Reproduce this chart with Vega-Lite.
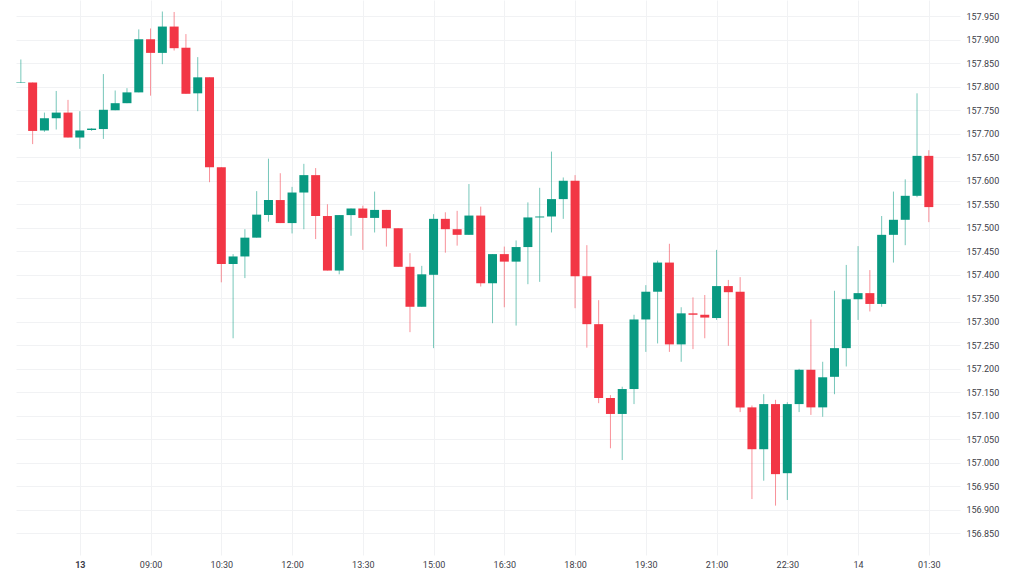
{
  "$schema": "https://vega.github.io/schema/vega-lite/v6.json",
  "width": 944,
  "height": 555,
  "autosize": {"type": "none"},
  "padding": {"left": 16, "top": 0, "right": 64, "bottom": 21},
  "background": "#ffffff",
  "config": {
    "view": {"stroke": null},
    "font": "Roboto",
    "axis": {"labelFont": "Roboto", "gridColor": "#f1f2f4", "gridWidth": 1},
    "axisY": {"labelOverlap": false, "labelFlush": false}
  },
  "data": {
    "values": [
      {"t": "2025-01-13T06:15:00Z", "o": 157.808, "h": 157.858, "l": 157.808, "c": 157.809},
      {"t": "2025-01-13T06:30:00Z", "o": 157.809, "h": 157.809, "l": 157.678, "c": 157.706},
      {"t": "2025-01-13T06:45:00Z", "o": 157.707, "h": 157.745, "l": 157.704, "c": 157.733},
      {"t": "2025-01-13T07:00:00Z", "o": 157.733, "h": 157.791, "l": 157.709, "c": 157.745},
      {"t": "2025-01-13T07:15:00Z", "o": 157.745, "h": 157.772, "l": 157.692, "c": 157.692},
      {"t": "2025-01-13T07:30:00Z", "o": 157.692, "h": 157.748, "l": 157.668, "c": 157.707},
      {"t": "2025-01-13T07:45:00Z", "o": 157.708, "h": 157.712, "l": 157.706, "c": 157.711},
      {"t": "2025-01-13T08:00:00Z", "o": 157.710, "h": 157.827, "l": 157.689, "c": 157.751},
      {"t": "2025-01-13T08:15:00Z", "o": 157.750, "h": 157.792, "l": 157.750, "c": 157.765},
      {"t": "2025-01-13T08:30:00Z", "o": 157.765, "h": 157.797, "l": 157.765, "c": 157.788},
      {"t": "2025-01-13T08:45:00Z", "o": 157.788, "h": 157.922, "l": 157.788, "c": 157.901},
      {"t": "2025-01-13T09:00:00Z", "o": 157.901, "h": 157.924, "l": 157.781, "c": 157.872},
      {"t": "2025-01-13T09:15:00Z", "o": 157.872, "h": 157.960, "l": 157.848, "c": 157.928},
      {"t": "2025-01-13T09:30:00Z", "o": 157.928, "h": 157.959, "l": 157.877, "c": 157.882},
      {"t": "2025-01-13T09:45:00Z", "o": 157.883, "h": 157.912, "l": 157.785, "c": 157.785},
      {"t": "2025-01-13T10:00:00Z", "o": 157.786, "h": 157.863, "l": 157.748, "c": 157.820},
      {"t": "2025-01-13T10:15:00Z", "o": 157.820, "h": 157.820, "l": 157.597, "c": 157.629},
      {"t": "2025-01-13T10:30:00Z", "o": 157.629, "h": 157.629, "l": 157.384, "c": 157.423},
      {"t": "2025-01-13T10:45:00Z", "o": 157.423, "h": 157.444, "l": 157.265, "c": 157.439},
      {"t": "2025-01-13T11:00:00Z", "o": 157.439, "h": 157.497, "l": 157.393, "c": 157.479},
      {"t": "2025-01-13T11:15:00Z", "o": 157.479, "h": 157.578, "l": 157.479, "c": 157.528},
      {"t": "2025-01-13T11:30:00Z", "o": 157.527, "h": 157.647, "l": 157.513, "c": 157.559},
      {"t": "2025-01-13T11:45:00Z", "o": 157.559, "h": 157.616, "l": 157.510, "c": 157.510},
      {"t": "2025-01-13T12:00:00Z", "o": 157.510, "h": 157.587, "l": 157.488, "c": 157.575},
      {"t": "2025-01-13T12:15:00Z", "o": 157.575, "h": 157.636, "l": 157.497, "c": 157.612},
      {"t": "2025-01-13T12:30:00Z", "o": 157.612, "h": 157.627, "l": 157.476, "c": 157.525},
      {"t": "2025-01-13T12:45:00Z", "o": 157.525, "h": 157.550, "l": 157.409, "c": 157.409},
      {"t": "2025-01-13T13:00:00Z", "o": 157.409, "h": 157.527, "l": 157.401, "c": 157.527},
      {"t": "2025-01-13T13:15:00Z", "o": 157.527, "h": 157.541, "l": 157.483, "c": 157.541},
      {"t": "2025-01-13T13:30:00Z", "o": 157.541, "h": 157.547, "l": 157.453, "c": 157.521},
      {"t": "2025-01-13T13:45:00Z", "o": 157.521, "h": 157.577, "l": 157.490, "c": 157.538},
      {"t": "2025-01-13T14:00:00Z", "o": 157.538, "h": 157.538, "l": 157.460, "c": 157.499},
      {"t": "2025-01-13T14:15:00Z", "o": 157.499, "h": 157.499, "l": 157.417, "c": 157.417},
      {"t": "2025-01-13T14:30:00Z", "o": 157.417, "h": 157.446, "l": 157.278, "c": 157.332},
      {"t": "2025-01-13T14:45:00Z", "o": 157.332, "h": 157.419, "l": 157.332, "c": 157.401},
      {"t": "2025-01-13T15:00:00Z", "o": 157.400, "h": 157.529, "l": 157.244, "c": 157.519},
      {"t": "2025-01-13T15:15:00Z", "o": 157.519, "h": 157.533, "l": 157.447, "c": 157.497},
      {"t": "2025-01-13T15:30:00Z", "o": 157.497, "h": 157.536, "l": 157.462, "c": 157.485},
      {"t": "2025-01-13T15:45:00Z", "o": 157.485, "h": 157.593, "l": 157.485, "c": 157.526},
      {"t": "2025-01-13T16:00:00Z", "o": 157.526, "h": 157.545, "l": 157.375, "c": 157.382},
      {"t": "2025-01-13T16:15:00Z", "o": 157.382, "h": 157.444, "l": 157.297, "c": 157.444},
      {"t": "2025-01-13T16:30:00Z", "o": 157.444, "h": 157.460, "l": 157.331, "c": 157.428},
      {"t": "2025-01-13T16:45:00Z", "o": 157.428, "h": 157.473, "l": 157.292, "c": 157.459},
      {"t": "2025-01-13T17:00:00Z", "o": 157.459, "h": 157.554, "l": 157.380, "c": 157.522},
      {"t": "2025-01-13T17:15:00Z", "o": 157.522, "h": 157.585, "l": 157.385, "c": 157.524},
      {"t": "2025-01-13T17:30:00Z", "o": 157.524, "h": 157.662, "l": 157.490, "c": 157.561},
      {"t": "2025-01-13T17:45:00Z", "o": 157.561, "h": 157.607, "l": 157.519, "c": 157.600},
      {"t": "2025-01-13T18:00:00Z", "o": 157.600, "h": 157.612, "l": 157.329, "c": 157.397},
      {"t": "2025-01-13T18:15:00Z", "o": 157.397, "h": 157.463, "l": 157.245, "c": 157.295},
      {"t": "2025-01-13T18:30:00Z", "o": 157.295, "h": 157.346, "l": 157.127, "c": 157.138},
      {"t": "2025-01-13T18:45:00Z", "o": 157.138, "h": 157.144, "l": 157.031, "c": 157.104},
      {"t": "2025-01-13T19:00:00Z", "o": 157.104, "h": 157.162, "l": 157.006, "c": 157.157},
      {"t": "2025-01-13T19:15:00Z", "o": 157.157, "h": 157.315, "l": 157.125, "c": 157.305},
      {"t": "2025-01-13T19:30:00Z", "o": 157.305, "h": 157.378, "l": 157.236, "c": 157.364},
      {"t": "2025-01-13T19:45:00Z", "o": 157.364, "h": 157.430, "l": 157.254, "c": 157.426},
      {"t": "2025-01-13T20:00:00Z", "o": 157.426, "h": 157.466, "l": 157.236, "c": 157.252},
      {"t": "2025-01-13T20:15:00Z", "o": 157.252, "h": 157.331, "l": 157.215, "c": 157.318},
      {"t": "2025-01-13T20:30:00Z", "o": 157.318, "h": 157.352, "l": 157.242, "c": 157.315},
      {"t": "2025-01-13T20:45:00Z", "o": 157.315, "h": 157.357, "l": 157.265, "c": 157.309},
      {"t": "2025-01-13T21:00:00Z", "o": 157.308, "h": 157.453, "l": 157.304, "c": 157.376},
      {"t": "2025-01-13T21:15:00Z", "o": 157.376, "h": 157.389, "l": 157.249, "c": 157.363},
      {"t": "2025-01-13T21:30:00Z", "o": 157.364, "h": 157.395, "l": 157.108, "c": 157.118},
      {"t": "2025-01-13T21:45:00Z", "o": 157.118, "h": 157.122, "l": 156.923, "c": 157.029},
      {"t": "2025-01-13T22:00:00Z", "o": 157.029, "h": 157.146, "l": 156.962, "c": 157.125},
      {"t": "2025-01-13T22:15:00Z", "o": 157.125, "h": 157.134, "l": 156.909, "c": 156.976},
      {"t": "2025-01-13T22:30:00Z", "o": 156.978, "h": 157.129, "l": 156.921, "c": 157.125},
      {"t": "2025-01-13T22:45:00Z", "o": 157.125, "h": 157.200, "l": 157.108, "c": 157.198},
      {"t": "2025-01-13T23:00:00Z", "o": 157.198, "h": 157.305, "l": 157.102, "c": 157.118},
      {"t": "2025-01-13T23:15:00Z", "o": 157.118, "h": 157.215, "l": 157.098, "c": 157.182},
      {"t": "2025-01-13T23:30:00Z", "o": 157.183, "h": 157.366, "l": 157.146, "c": 157.244},
      {"t": "2025-01-13T23:45:00Z", "o": 157.244, "h": 157.421, "l": 157.205, "c": 157.348},
      {"t": "2025-01-14T00:00:00Z", "o": 157.348, "h": 157.461, "l": 157.304, "c": 157.361},
      {"t": "2025-01-14T00:15:00Z", "o": 157.361, "h": 157.410, "l": 157.322, "c": 157.338},
      {"t": "2025-01-14T00:30:00Z", "o": 157.338, "h": 157.525, "l": 157.332, "c": 157.485},
      {"t": "2025-01-14T00:45:00Z", "o": 157.485, "h": 157.577, "l": 157.426, "c": 157.517},
      {"t": "2025-01-14T01:00:00Z", "o": 157.517, "h": 157.603, "l": 157.463, "c": 157.568},
      {"t": "2025-01-14T01:15:00Z", "o": 157.568, "h": 157.786, "l": 157.565, "c": 157.653},
      {"t": "2025-01-14T01:30:00Z", "o": 157.653, "h": 157.665, "l": 157.512, "c": 157.544}
    ]
  },
  "encoding": {
    "x": {
      "field": "t",
      "type": "temporal",
      "scale": {
        "type": "utc",
        "padding": 0,
        "domain": [
          {"year": 2025, "month": 1, "date": 13, "hours": 6, "minutes": 8, "seconds": 50, "utc": true},
          {"year": 2025, "month": 1, "date": 14, "hours": 2, "minutes": 9, "seconds": 40, "utc": true}
        ]
      },
      "axis": {
        "title": null,
        "domain": false,
        "ticks": false,
        "labelPadding": 5,
        "labelFontSize": 9,
        "labelColor": "#3d4049",
        "labelFlush": false,
        "labelOverlap": false,
        "values": [
          {"year": 2025, "month": 1, "date": 13, "hours": 7, "minutes": 30, "utc": true},
          {"year": 2025, "month": 1, "date": 13, "hours": 9, "minutes": 0, "utc": true},
          {"year": 2025, "month": 1, "date": 13, "hours": 10, "minutes": 30, "utc": true},
          {"year": 2025, "month": 1, "date": 13, "hours": 12, "minutes": 0, "utc": true},
          {"year": 2025, "month": 1, "date": 13, "hours": 13, "minutes": 30, "utc": true},
          {"year": 2025, "month": 1, "date": 13, "hours": 15, "minutes": 0, "utc": true},
          {"year": 2025, "month": 1, "date": 13, "hours": 16, "minutes": 30, "utc": true},
          {"year": 2025, "month": 1, "date": 13, "hours": 18, "minutes": 0, "utc": true},
          {"year": 2025, "month": 1, "date": 13, "hours": 19, "minutes": 30, "utc": true},
          {"year": 2025, "month": 1, "date": 13, "hours": 21, "minutes": 0, "utc": true},
          {"year": 2025, "month": 1, "date": 13, "hours": 22, "minutes": 30, "utc": true},
          {"year": 2025, "month": 1, "date": 14, "hours": 0, "minutes": 0, "utc": true},
          {"year": 2025, "month": 1, "date": 14, "hours": 1, "minutes": 30, "utc": true}
        ],
        "labelExpr": "utcFormat(datum.value, '%H:%M') == '07:30' ? '13' : (utcFormat(datum.value, '%H:%M') == '00:00' ? '14' : utcFormat(datum.value, '%H:%M'))",
        "labelFontWeight": {"condition": {"test": "utcFormat(datum.value, '%H:%M') == '07:30'", "value": "bold"}, "value": "normal"}
      }
    }
  },
  "layer": [
    {
      "mark": {"type": "rule", "strokeWidth": 1, "opacity": 0.55},
      "encoding": {
        "y": {
          "field": "l",
          "type": "quantitative",
          "scale": {"domain": [156.804, 157.9845], "nice": false, "zero": false},
          "axis": {
            "title": null,
            "orient": "right",
            "domain": false,
            "ticks": false,
            "labelPadding": 6,
            "labelFontSize": 9,
            "labelColor": "#3d4049",
            "labelOverlap": false,
            "labelFlush": false,
            "format": ".3f",
            "values": [156.85, 156.9, 156.95, 157.0, 157.05, 157.1, 157.15, 157.2, 157.25, 157.3, 157.35, 157.4, 157.45, 157.5, 157.55, 157.6, 157.65, 157.7, 157.75, 157.8, 157.85, 157.9, 157.95]
          }
        },
        "y2": {"field": "h"},
        "color": {"condition": {"test": "datum.c >= datum.o", "value": "#089981"}, "value": "#f23645"}
      }
    },
    {
      "mark": {"type": "bar", "size": 9},
      "encoding": {
        "y": {
          "field": "o",
          "type": "quantitative",
          "scale": {"domain": [156.804, 157.9845], "nice": false, "zero": false},
          "axis": {
            "title": null,
            "orient": "right",
            "domain": false,
            "ticks": false,
            "labelPadding": 6,
            "labelFontSize": 9,
            "labelColor": "#3d4049",
            "labelOverlap": false,
            "labelFlush": false,
            "format": ".3f",
            "values": [156.85, 156.9, 156.95, 157.0, 157.05, 157.1, 157.15, 157.2, 157.25, 157.3, 157.35, 157.4, 157.45, 157.5, 157.55, 157.6, 157.65, 157.7, 157.75, 157.8, 157.85, 157.9, 157.95]
          }
        },
        "y2": {"field": "c"},
        "color": {"condition": {"test": "datum.c >= datum.o", "value": "#089981"}, "value": "#f23645"}
      }
    }
  ]
}
